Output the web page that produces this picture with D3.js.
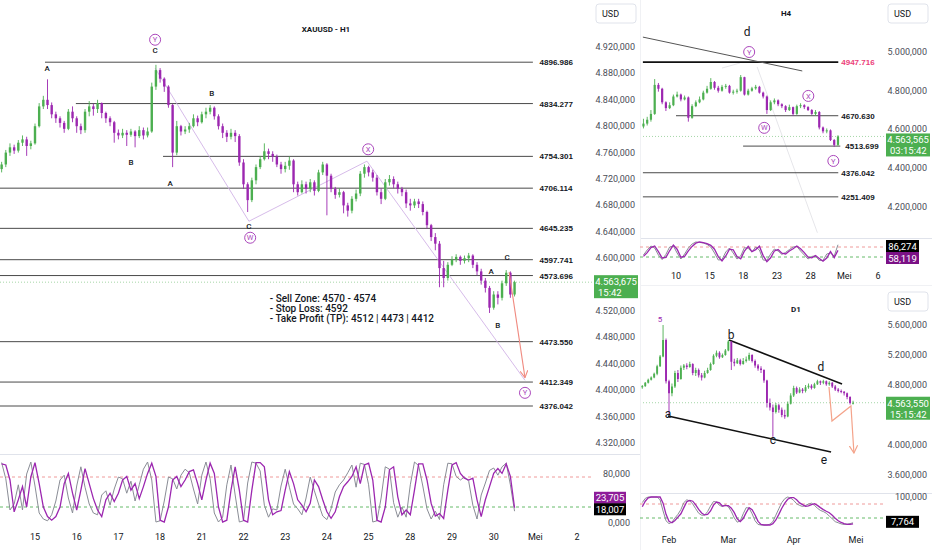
<!DOCTYPE html>
<html><head><meta charset="utf-8">
<script src="https://cdn.jsdelivr.net/npm/d3@7"></script>
<style>body{margin:0;background:#fff;}svg{display:block;font-family:Roboto,"Open Sans",sans-serif;}</style>
</head><body>
<svg id="c" width="932" height="550"></svg>
<script>
// ===== H1 (main) data =====
const h1Open0 = 4735;
const h1Close = [4742,4760,4768,4763,4775,4780,4770,4774,4800,4830,
 4840,4832,4818,4812,4805,4796,4822,4812,4800,4794,
 4822,4830,4826,4835,4820,4812,4806,4790,4786,4790,
 4787,4792,4785,4794,4786,4792,4860,4885,4872,4860,
 4832,4760,4800,4792,4795,4800,4812,4806,4818,4822,
 4828,4815,4800,4790,4784,4790,4785,4745,4712,4688,
 4718,4738,4750,4762,4758,4754,4742,4735,4740,4748,
 4712,4700,4712,4705,4715,4702,4730,4742,4725,4705,
 4696,4700,4680,4672,4690,4698,4728,4738,4730,4722,
 4700,4690,4715,4720,4712,4705,4700,4683,4680,4686,
 4682,4670,4650,4632,4622,4585,4570,4590,4598,4602,
 4596,4600,4604,4590,4580,4566,4555,4525,4545,4540,
 4562,4578,4545,4563.675];
const h1High = [4746,4764,4774,4772,4779,4786,4784,4778,4804,4835,
 4846,4871,4836,4822,4815,4808,4826,4830,4815,4804,
 4826,4838,4834,4840,4836,4822,4815,4808,4795,4796,
 4794,4796,4794,4800,4798,4798,4866,4893,4888,4874,
 4862,4834,4808,4802,4800,4805,4818,4816,4822,4828,
 4832,4830,4818,4804,4794,4796,4794,4788,4750,4715,
 4722,4742,4755,4774,4766,4762,4757,4746,4746,4754,
 4750,4716,4718,4716,4720,4718,4734,4746,4744,4728,
 4708,4706,4702,4684,4694,4704,4732,4742,4740,4734,
 4726,4706,4720,4726,4724,4716,4708,4704,4690,4690,
 4690,4686,4672,4652,4638,4626,4596,4594,4603,4606,
 4604,4604,4608,4606,4594,4584,4570,4558,4550,4550,
 4566,4582,4580,4566];
const h1Low = [4730,4738,4755,4758,4760,4770,4755,4765,4772,4798,
 4826,4826,4812,4805,4798,4790,4794,4806,4790,4788,
 4790,4815,4816,4820,4812,4805,4800,4775,4780,4782,
 4770,4784,4768,4782,4780,4783,4790,4855,4866,4852,
 4828,4738,4756,4786,4788,4790,4798,4800,4804,4812,
 4818,4810,4795,4782,4776,4780,4776,4740,4705,4670,
 4685,4712,4735,4748,4750,4746,4738,4728,4730,4734,
 4700,4695,4698,4698,4700,4695,4700,4726,4665,4700,
 4690,4692,4668,4663,4668,4686,4694,4722,4724,4716,
 4695,4682,4688,4710,4706,4698,4694,4676,4672,4676,
 4676,4665,4645,4626,4612,4556,4556,4566,4588,4594,
 4590,4592,4594,4585,4574,4560,4548,4517,4522,4530,
 4536,4558,4540,4542];
const h1StochPurple = [97,95,70,17,37,59,25,75,99,64,25,9,3,9,25,64,81,48,20,53,
 89,64,39,20,9,37,48,34,48,70,76,53,64,39,59,81,98,76,3,0,
 25,70,76,59,70,84,87,64,37,70,98,81,25,0,3,53,92,53,3,0,
 53,99,99,92,37,12,17,19,53,84,64,37,28,17,31,70,59,37,17,6,
 17,42,59,67,76,92,64,95,98,70,3,0,25,87,92,42,12,20,12,53,
 97,97,70,31,10,14,6,53,95,99,81,73,70,73,37,9,37,59,81,89,
 81,97,76,23.705];
const h1StochGray = [99,72,20,30,62,20,80,100,60,15,5,2,12,35,70,78,40,15,60,92,
 58,30,15,12,45,52,28,55,75,72,48,68,35,62,88,100,70,0,2,35,
 75,72,55,78,88,82,55,30,78,100,72,15,0,8,62,95,45,0,2,65,
 100,98,85,28,8,22,20,60,88,58,30,22,12,40,75,52,30,10,4,22,
 50,62,70,82,95,58,98,96,62,0,2,40,92,88,32,8,25,8,62,100,
 94,60,22,5,18,4,62,98,97,76,70,75,68,28,5,45,65,86,90,78,
 92,98,62,18.007];
const h1DayLabels = ["15","16","17","18","21","22","23","24","25","28","29","30","Mei","2"];
const h1Levels = [4896.986,4834.277,4754.301,4706.114,4645.235,4597.741,4573.696,4473.550,4412.349,4376.042];
const h1LevelStart = [0.24,0.98,3.07,-0.84,-0.84,-0.84,-0.84,-0.84,-0.84,-0.84];
const h1Ticks = [4320,4360,4400,4440,4480,4520,4600,4640,4680,4720,4760,4800,4840,4880,4920];
const h1Price = 4563.675, h1Timer = "15:42";
const h1Waves = [{t:0.29,p:4888,s:"A"},{t:2.88,p:4915,s:"C"},{t:4.24,p:4850,s:"B"},{t:2.30,p:4746,s:"B"},
 {t:3.24,p:4714,s:"A"},{t:5.13,p:4649,s:"C"},{t:10.94,p:4581,s:"A"},{t:11.32,p:4602,s:"C"},{t:11.10,p:4499,s:"B"}];
const h1Circles = [{t:2.88,p:4931,s:"Y"},{t:5.16,p:4631,s:"W"},{t:7.99,p:4765,s:"X"},{t:11.75,p:4396,s:"Y"}];
const h1WavePath = [[2.88,4888],[5.13,4656],[7.96,4747],[11.75,4415]];
const h1Arrow = [[11.37,4579],[11.75,4419]];
const noteLines = ["- Sell Zone: 4570 - 4574","- Stop Loss: 4592","- Take Profit (TP): 4512 | 4473 | 4412"];

// ===== H4 data =====
const h4Open0 = 4615;
const h4Close = [4630,4650,4680,4830,4810,4740,4710,4725,4770,4780,4755,4765,4660,4720,4740,4755,4790,4810,4845,4815,
 4800,4820,4825,4790,4795,4800,4870,4780,4800,4812,4820,4790,4770,4700,4740,4750,4730,4720,4700,4715,
 4680,4720,4725,4715,4700,4680,4690,4610,4590,4595,4545,4520,4563.565];
const h4High = [4655,4665,4700,4860,4840,4815,4745,4740,4780,4795,4785,4775,4770,4730,4750,4770,4800,4825,4865,4850,
 4825,4830,4835,4830,4805,4810,4881,4872,4810,4820,4830,4825,4795,4775,4750,4760,4755,4735,4725,4728,
 4718,4728,4735,4730,4720,4705,4700,4695,4615,4605,4600,4550,4570];
const h4Low = [4605,4620,4640,4675,4795,4730,4695,4705,4720,4765,4745,4750,4640,4655,4715,4735,4750,4785,4805,4805,
 4790,4795,4810,4785,4780,4785,4795,4775,4775,4795,4805,4785,4760,4680,4695,4730,4720,4710,4690,4695,
 4670,4675,4710,4705,4695,4675,4670,4600,4580,4580,4540,4510,4515];
const h4StochPurple = [28,47,72,80,52,20,23,56,85,64,24,28,56,78,94,100,97,92,83,64,27,5,30,64,61,27,16,55,78,52,
 62,79,32,2,21,55,62,44,40,55,66,80,66,47,24,21,32,18,4,20,52,22,58.119];
const h4StochGray = [35,60,80,70,35,12,38,75,80,45,15,40,70,90,100,98,95,88,75,45,10,12,50,70,45,15,30,72,68,50,
 75,60,10,8,40,65,55,38,48,62,75,78,55,35,15,28,30,8,8,40,45,30,86.274];
const h4DayLabels = ["10","15","18","23","28","Mei","6"];
const h4DayIdx = [0,3,6,9,12,15,18];
const h4Levels = [4947.716,4670.630,4513.699,4376.042,4251.409];
const h4LevelRange = [[-2.95,14.46],[0,14.46],[5.98,14.64],[-2.95,14.46],[-2.95,14.46]];
const h4Ticks = [4200,4400,4600,4800,5000];
const h4Price = 4563.565, h4Timer = "03:15:42";
const h4Trend = [[-2.95,5077],[11.25,4902]];
const h4Circles = [{d:6.52,p:5000,s:"Y"},{d:11.79,p:4773,s:"X"},{d:7.86,p:4608,s:"W"},{d:14.02,p:4437,s:"Y"}];
const h4Faint = [[[4.1,4917],[5.7,4943]],[[7.23,4923],[12.6,4066]]];

// ===== D1 data =====
const d1Open0 = 4770;
const d1Close = [4785,4830,4870,4900,4950,5050,5180,5400,4850,4690,4780,4960,4880,5030,5060,5040,5080,4960,5000,4930,
 4900,4960,5000,5080,5190,5230,5170,5200,5260,5380,5110,5090,5130,5080,5120,5140,5200,5120,5060,5020,
 5000,4860,4560,4500,4440,4530,4470,4400,4380,4550,4660,4760,4700,4740,4720,4770,4790,4760,4810,4850,
 4830,4850,4810,4830,4780,4740,4720,4710,4690,4640,4560,4563.55];
const d1High = [4800,4840,4885,4915,4965,5070,5200,5600,5420,4870,4820,4990,5000,5060,5080,5090,5110,5090,5030,5020,
 4960,4990,5030,5100,5210,5260,5250,5220,5280,5400,5380,5150,5160,5150,5160,5180,5230,5210,5140,5080,
 5050,5010,4870,4620,4540,4560,4550,4500,4470,4580,4690,4790,4780,4770,4760,4800,4820,4810,4830,4870,
 4860,4870,4860,4850,4840,4800,4760,4740,4720,4700,4650,4590];
const d1Low = [4750,4775,4820,4860,4890,4930,5040,5170,4820,4400,4650,4760,4840,4870,5000,5010,5030,4930,4920,4900,
 4860,4890,4950,4990,5070,5170,5150,5160,5190,5250,5000,5050,5080,5060,5070,5100,5120,5100,5030,4990,
 4960,4830,4500,4460,4110,4420,4430,4370,4350,4370,4540,4640,4680,4690,4690,4700,4750,4740,4750,4800,
 4800,4810,4790,4790,4760,4720,4700,4690,4660,4610,4540,4540];
const d1StochPurple = [65,85,97,100,100,100,100,78,38,13,8,16,28,40,62,83,88,85,72,56,
 43,36,38,50,71,82,79,68,69,69,60,44,22,12,23,44,62,55,36,13,
 2,0,0,0,5,18,38,60,78,92,98,98,90,79,73,67,68,73,76,70,
 62,55,49,44,35,24,15,9,5,2,2,4];
const d1StochGray = [80,95,100,100,100,100,90,50,15,5,10,25,38,55,80,90,86,75,58,42,
 35,35,48,68,84,82,70,66,72,65,48,25,10,15,40,62,60,40,15,2,
 0,0,0,3,12,35,58,80,94,100,96,88,76,70,66,70,75,78,70,60,
 52,48,42,32,22,12,8,4,2,3,5,7.764];
const d1MonthLabels = ["Feb","Mar","Apr","Mei"];
const d1MonthIdx = [9,29,51,72];
const d1Ticks = [3600,4000,4800,5200,5600];
const d1Price = 4563.550, d1Timer = "15:15:42";
const d1LineBD = [[29.2,5400],[67.3,4813]];
const d1LineAE = [[8.66,4387],[63.6,3907]];
const d1Proj = [[62.9,4773],[63.9,4320],[70.3,4520],[71.3,3893]];
const d1Letters = [{i:5.97,p:5693,s:"5",c:"#9c27b0",f:8},{i:29.9,p:5467,s:"b"},{i:60.2,p:5040,s:"d"},
 {i:8.66,p:4413,s:"a"},{i:44.0,p:4067,s:"c"},{i:61.2,p:3800,s:"e"}];

// ===== drawing =====
const svg = d3.select("#c");
const GREEN="#4caf50", PURPLE="#9c27b0", GRAY="#8a8d96", LVL="#4a4a4a";
const fmtP = v => d3.format(",.3f")(v).replace(/,/g,"_").replace(".",",").replace(/_/g,".");
const fmtS = v => d3.format(".3f")(v).replace(".",",");

const defs = svg.append("defs");
function clip(id,x,y,w,h){defs.append("clipPath").attr("id",id).append("rect").attr("x",x).attr("y",y).attr("width",w).attr("height",h);}
clip("cMain",0,0,592,454); clip("cH4",640,24,245,214); clip("cD1",640,312,245,180);
clip("oMain",0,455,592,70); clip("oH4",640,239,245,27); clip("oD1",640,494,245,34);
defs.append("marker").attr("id","arR").attr("viewBox","0 0 10 10").attr("refX",9).attr("refY",5)
 .attr("markerWidth",7).attr("markerHeight",7).attr("orient","auto")
 .append("path").attr("d","M0,0 L9,5 L0,10").attr("fill","none").attr("stroke","#f08a80").attr("stroke-width",1.4);
defs.append("marker").attr("id","arO").attr("viewBox","0 0 10 10").attr("refX",9).attr("refY",5)
 .attr("markerWidth",7).attr("markerHeight",7).attr("orient","auto")
 .append("path").attr("d","M0,0 L9,5 L0,10").attr("fill","none").attr("stroke","#f4a38a").attr("stroke-width",1.4);

function candles(g,x,y,t,o0,cl,hi,lo,w){
  const data = cl.map((c,i)=>({t:t[i],o:i?cl[i-1]:o0,c,h:hi[i],l:lo[i]}));
  g.selectAll(null).data(data).enter().append("line")
   .attr("x1",d=>x(d.t)).attr("x2",d=>x(d.t))
   .attr("y1",d=>y(Math.max(d.h,d.o,d.c))).attr("y2",d=>y(Math.min(d.l,d.o,d.c)))
   .attr("stroke",d=>d.c>=d.o?GREEN:PURPLE).attr("stroke-width",0.9);
  g.selectAll(null).data(data).enter().append("rect")
   .attr("x",d=>x(d.t)-w/2).attr("width",w)
   .attr("y",d=>y(Math.max(d.o,d.c))).attr("height",d=>Math.max(1,Math.abs(y(d.o)-y(d.c))))
   .attr("fill",d=>d.c>=d.o?GREEN:PURPLE);
}
function stoch(g,x,ys,t,purple,gray){
  g.append("path").datum(gray).attr("fill","none").attr("stroke",GRAY).attr("stroke-width",1)
   .attr("d",d3.line().x((d,i)=>x(t[i])).y(d=>ys(d)));
  g.append("path").datum(purple).attr("fill","none").attr("stroke",PURPLE).attr("stroke-width",1.3)
   .attr("d",d3.line().x((d,i)=>x(t[i])).y(d=>ys(d)));
}
function bands(g,ys,x0,x1){
  g.append("line").attr("x1",x0).attr("x2",x1).attr("y1",ys(75)).attr("y2",ys(75))
   .attr("stroke","#ef9a9a").attr("stroke-dasharray","3,3");
  g.append("line").attr("x1",x0).attr("x2",x1).attr("y1",ys(25)).attr("y2",ys(25))
   .attr("stroke","#66bb6a").attr("stroke-dasharray","3,3");
}
function badge(x,yc,w,txt,fill){
  svg.append("rect").attr("x",x).attr("y",yc-6).attr("width",w).attr("height",12).attr("fill",fill);
  svg.append("text").attr("x",x+w/2).attr("y",yc+3.5).attr("text-anchor","middle").attr("fill","#fff")
   .attr("font-size",9.5).text(txt);
}
function priceBox(x,top,txt,timer){
  svg.append("rect").attr("x",x).attr("y",top).attr("width",44).attr("height",23).attr("fill",GREEN);
  svg.append("text").attr("x",x+22).attr("y",top+10).attr("text-anchor","middle").attr("fill","#fff").attr("font-size",9.5).text(txt);
  svg.append("text").attr("x",x+4).attr("y",top+21).attr("fill","#fff").attr("font-size",9.5).text(timer);
}
function usdBox(x,y){
  svg.append("rect").attr("x",x).attr("y",y).attr("width",40).attr("height",19).attr("rx",3)
   .attr("fill","#fff").attr("stroke","#e0e3eb");
  svg.append("text").attr("x",x+6).attr("y",y+13).attr("font-size",9).attr("fill","#131722").text("USD");
}
function circ(g,cx,cy,s){
  g.append("circle").attr("cx",cx).attr("cy",cy).attr("r",5.5).attr("fill","#fff").attr("stroke","#ab47bc").attr("stroke-width",1);
  g.append("text").attr("x",cx).attr("y",cy+2.6).attr("text-anchor","middle").attr("font-size",7.5).attr("fill","#ab47bc").text(s);
}

// separators
svg.append("line").attr("x1",0).attr("x2",640).attr("y1",454.5).attr("y2",454.5).attr("stroke","#e0e3eb");
svg.append("line").attr("x1",640).attr("x2",932).attr("y1",238.5).attr("y2",238.5).attr("stroke","#e0e3eb");
svg.append("line").attr("x1",640).attr("x2",932).attr("y1",493.5).attr("y2",493.5).attr("stroke","#e0e3eb");
svg.append("line").attr("x1",640.5).attr("x2",640.5).attr("y1",0).attr("y2",550).attr("stroke","#f0f1f4");
svg.append("line").attr("x1",640).attr("x2",932).attr("y1",285.5).attr("y2",285.5).attr("stroke","#f0f1f4");

// ===== MAIN H1 =====
const xM = d3.scaleLinear().domain([0,13]).range([35,577.1]);
const yM = d3.scaleLinear().domain([4320,4920]).range([443,47]);
const ysM = d3.scaleLinear().domain([0,100]).range([522,462]);
const tM = h1Close.map((_,i)=>-0.8+0.1*i);
const gM = svg.append("g").attr("clip-path","url(#cMain)");

gM.append("line").attr("x1",0).attr("x2",592).attr("y1",yM(h1Price)).attr("y2",yM(h1Price))
  .attr("stroke","#a5d6a7").attr("stroke-dasharray","1,2");
h1Levels.forEach((v,i)=>{
  gM.append("line").attr("x1",xM(h1LevelStart[i])).attr("x2",xM(11.94)).attr("y1",yM(v)).attr("y2",yM(v))
    .attr("stroke",LVL).attr("stroke-width",1);
  gM.append("text").attr("x",xM(12.1)).attr("y",yM(v)+3).attr("font-family","'Liberation Sans',Arial")
    .attr("font-weight","bold").attr("font-size",8).attr("fill","#131722").text(d3.format(".3f")(v));
});
gM.append("path").datum(h1WavePath).attr("fill","none").attr("stroke","#d1b3e6").attr("stroke-width",0.9)
  .attr("d",d3.line().x(d=>xM(d[0])).y(d=>yM(d[1])));
candles(gM,xM,yM,tM,h1Open0,h1Close,h1High,h1Low,2.4);
gM.append("line").attr("x1",xM(h1Arrow[0][0])).attr("y1",yM(h1Arrow[0][1])).attr("x2",xM(h1Arrow[1][0])).attr("y2",yM(h1Arrow[1][1]))
  .attr("stroke","#f08a80").attr("stroke-width",1.1).attr("marker-end","url(#arR)");
h1Waves.forEach(w=>gM.append("text").attr("x",xM(w.t)).attr("y",yM(w.p)+3).attr("text-anchor","middle")
  .attr("font-size",8).attr("font-weight",500).attr("fill","#131722").text(w.s));
h1Circles.forEach(c=>circ(gM,xM(c.t),yM(c.p),c.s));
noteLines.forEach((s,i)=>gM.append("text").attr("x",xM(5.63)).attr("y",yM(4534)+i*10.3).attr("font-size",10)
  .attr("font-weight",500).attr("fill","#131722").text(s));
svg.append("text").attr("x",326).attr("y",32).attr("text-anchor","middle").attr("font-size",8)
  .attr("font-weight","bold").attr("fill","#131722").text("XAUUSD - H1");

// main axis
h1Ticks.forEach(v=>svg.append("text").attr("x",635).attr("y",yM(v)+3).attr("text-anchor","end")
  .attr("font-size",9).attr("fill","#4a4d57").text(fmtP(v)));
priceBox(594,yM(h1Price)-7,fmtP(h1Price),h1Timer);
usdBox(596,4);

// main stoch
const oM = svg.append("g").attr("clip-path","url(#oMain)");
bands(oM,ysM,0,592);
stoch(oM,xM,ysM,tM,h1StochPurple,h1StochGray);
svg.append("text").attr("x",630).attr("y",ysM(80)+3).attr("text-anchor","end").attr("font-size",9).attr("fill","#4a4d57").text("80,000");
svg.append("text").attr("x",630).attr("y",ysM(0)+4).attr("text-anchor","end").attr("font-size",9).attr("fill","#4a4d57").text("0,000");
const h1pLast = h1StochPurple[h1StochPurple.length-1];
badge(594,ysM(h1pLast)-10,32,fmtS(h1pLast),"#8e1c99");
badge(594,ysM(h1pLast)+1.5,32,fmtS(h1StochGray[h1StochGray.length-1]),"#000");
h1DayLabels.forEach((s,i)=>svg.append("text").attr("x",xM(i)).attr("y",540).attr("text-anchor","middle")
  .attr("font-size",9).attr("fill","#131722").text(s));

// ===== H4 =====
const xH = d3.scaleLinear().domain([0,18]).range([676,878]);
const yH = d3.scaleLinear().domain([4200,5000]).range([206.8,52]);
const ysH = d3.scaleLinear().domain([0,100]).range([262,242]);
const tH = h4Close.map((_,k)=>-2.9+k/3);
const gH = svg.append("g").attr("clip-path","url(#cH4)");
h4Faint.forEach(seg=>gH.append("path").datum(seg).attr("fill","none").attr("stroke","#e6e6ea").attr("stroke-width",1)
  .attr("d",d3.line().x(d=>xH(d[0])).y(d=>yH(d[1]))));
gH.append("line").attr("x1",643).attr("x2",885).attr("y1",yH(h4Price)).attr("y2",yH(h4Price))
  .attr("stroke","#a5d6a7").attr("stroke-dasharray","1,2");
h4Levels.forEach((v,i)=>{
  gH.append("line").attr("x1",xH(h4LevelRange[i][0])).attr("x2",xH(h4LevelRange[i][1])).attr("y1",yH(v)).attr("y2",yH(v))
   .attr("stroke",i===0?"#111":LVL).attr("stroke-width",i===0?1.6:1);
  gH.append("text").attr("x",xH(h4LevelRange[i][1])+(i===2?5:3)).attr("y",yH(v)+3)
   .attr("font-family","'Liberation Sans',Arial").attr("font-weight","bold").attr("font-size",8)
   .attr("fill",i===0?"#ec407a":"#131722").text(d3.format(".3f")(v));
});
gH.append("line").attr("x1",xH(h4Trend[0][0])).attr("y1",yH(h4Trend[0][1])).attr("x2",xH(h4Trend[1][0])).attr("y2",yH(h4Trend[1][1]))
  .attr("stroke","#555").attr("stroke-width",1);
candles(gH,xH,yH,tH,h4Open0,h4Close,h4High,h4Low,2.2);
gH.append("text").attr("x",xH(6.34)).attr("y",yH(5103)+4).attr("text-anchor","middle").attr("font-size",12).attr("fill","#131722").text("d");
h4Circles.forEach(c=>circ(gH,xH(c.d),yH(c.p),c.s));
svg.append("text").attr("x",786).attr("y",16).attr("text-anchor","middle").attr("font-size",8).attr("font-weight","bold").attr("fill","#131722").text("H4");
h4Ticks.forEach(v=>svg.append("text").attr("x",927).attr("y",yH(v)+3).attr("text-anchor","end")
  .attr("font-size",9).attr("fill","#4a4d57").text(fmtP(v)));
priceBox(886,yH(h4Price)-3,fmtP(h4Price),h4Timer);
usdBox(888,4);
const oH = svg.append("g").attr("clip-path","url(#oH4)");
bands(oH,ysH,640,885);
stoch(oH,xH,ysH,tH,h4StochPurple,h4StochGray);
badge(886,246,33,fmtS(h4StochGray[h4StochGray.length-1]),"#000");
badge(886,258,33,fmtS(h4StochPurple[h4StochPurple.length-1]),"#7b1186");
h4DayLabels.forEach((s,i)=>svg.append("text").attr("x",xH(h4DayIdx[i])).attr("y",279).attr("text-anchor","middle")
  .attr("font-size",9).attr("fill","#131722").text(s));

// ===== D1 =====
const xD = d3.scaleLinear().domain([9,72]).range([669,856]);
const yD = d3.scaleLinear().domain([3600,5600]).range([475,325]);
const ysD = d3.scaleLinear().domain([0,100]).range([525,497]);
const tD = d1Close.map((_,i)=>i);
const gD = svg.append("g").attr("clip-path","url(#cD1)");
gD.append("line").attr("x1",643).attr("x2",885).attr("y1",yD(d1Price)).attr("y2",yD(d1Price))
  .attr("stroke","#a5d6a7").attr("stroke-dasharray","1,2");
[d1LineBD,d1LineAE].forEach(l=>gD.append("line").attr("x1",xD(l[0][0])).attr("y1",yD(l[0][1]))
  .attr("x2",xD(l[1][0])).attr("y2",yD(l[1][1])).attr("stroke","#111").attr("stroke-width",1.5));
candles(gD,xD,yD,tD,d1Open0,d1Close,d1High,d1Low,1.9);
gD.append("path").datum(d1Proj).attr("fill","none").attr("stroke","#f4a38a").attr("stroke-width",1.2)
  .attr("marker-end","url(#arO)").attr("d",d3.line().x(d=>xD(d[0])).y(d=>yD(d[1])));
d1Letters.forEach(l=>gD.append("text").attr("x",xD(l.i)).attr("y",yD(l.p)+4).attr("text-anchor","middle")
  .attr("font-size",l.f||12).attr("fill",l.c||"#131722").text(l.s));
svg.append("text").attr("x",796).attr("y",312).attr("text-anchor","middle").attr("font-size",8).attr("font-weight","bold").attr("fill","#131722").text("D1");
d1Ticks.forEach(v=>svg.append("text").attr("x",927).attr("y",yD(v)+3).attr("text-anchor","end")
  .attr("font-size",9).attr("fill","#4a4d57").text(fmtP(v)));
priceBox(886,yD(d1Price)-6,fmtP(d1Price),d1Timer);
usdBox(888,292);
const oD = svg.append("g").attr("clip-path","url(#oD1)");
bands(oD,ysD,640,885);
stoch(oD,xD,ysD,tD,d1StochPurple,d1StochGray);
svg.append("text").attr("x",927).attr("y",ysD(100)+3).attr("text-anchor","end").attr("font-size",9).attr("fill","#4a4d57").text("100,000");
badge(886,ysD(d1StochGray[d1StochGray.length-1])-1,33,fmtS(d1StochGray[d1StochGray.length-1]),"#000");
d1MonthLabels.forEach((s,i)=>svg.append("text").attr("x",xD(d1MonthIdx[i])).attr("y",543).attr("text-anchor","middle")
  .attr("font-size",9).attr("fill","#131722").text(s));
</script>
</body></html>
